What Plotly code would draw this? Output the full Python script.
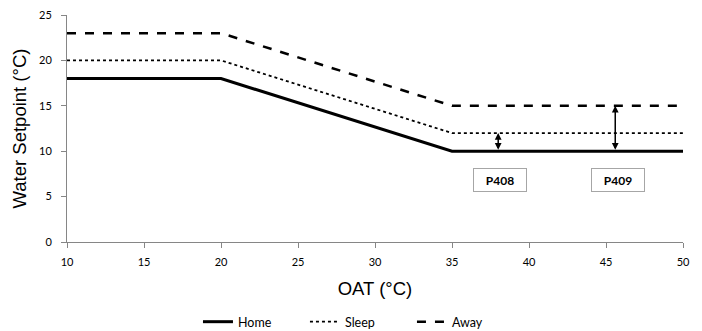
import plotly.graph_objects as go

oat = [10, 20, 35, 50]
home = [18, 18, 10, 10]
sleep = [20, 20, 12, 12]
away = [23, 23, 15, 15]

arrow_x = [38, 45.6]
arrow_lo = [10, 10]
arrow_hi = [12, 15]
box_labels = ["P408", "P409"]
box_x = [38.1, 45.8]
box_y = [6.8, 6.8]

fig = go.Figure()
fig.add_trace(go.Scatter(x=oat, y=home, mode="lines", name="Home",
                         line=dict(color="black", width=3, dash="solid")))
fig.add_trace(go.Scatter(x=oat, y=sleep, mode="lines", name="Sleep",
                         line=dict(color="black", width=1.8, dash="dot")))
fig.add_trace(go.Scatter(x=oat, y=away, mode="lines", name="Away",
                         line=dict(color="black", width=2.5, dash="dash")))

for xa, lo, hi in zip(arrow_x, arrow_lo, arrow_hi):
    fig.add_annotation(x=xa, y=hi, ax=xa, ay=lo, xref="x", yref="y",
                       axref="x", ayref="y", text="", showarrow=True,
                       arrowhead=2, arrowside="end+start", arrowsize=0.9,
                       arrowwidth=1.5, arrowcolor="black", standoff=0, startstandoff=0)

for lab, bx, by in zip(box_labels, box_x, box_y):
    fig.add_annotation(x=bx, y=by, xref="x", yref="y", text="<b>" + lab + "</b>",
                       showarrow=False, font=dict(family="Lato, Noto Sans", size=12, color="black"),
                       bordercolor="#a6a6a6", borderwidth=1, borderpad=5,
                       bgcolor="white", width=42, height=12)

fig.update_layout(
    width=702, height=331,
    margin=dict(l=67, r=19, t=15, b=89, autoexpand=False),
    paper_bgcolor="white", plot_bgcolor="white",
    showlegend=True,
    legend=dict(orientation="h", xref="container", yref="container",
                x=0.282, xanchor="left", y=0.027, yanchor="middle",
                font=dict(family="Lato, Noto Sans", size=12.5, color="black"),
                itemwidth=30, entrywidth=62, entrywidthmode="pixels", tracegroupgap=0),
    font=dict(family="Lato", color="black"),
)
fig.update_xaxes(range=[10, 50], tickvals=[10, 15, 20, 25, 30, 35, 40, 45, 50],
                 automargin=False,
                 showgrid=False, zeroline=False, showline=True, linecolor="#868686",
                 linewidth=1, ticks="outside", ticklen=5, tickcolor="#868686",
                 ticklabelstandoff=5,
                 tickfont=dict(family="Lato", size=11, color="black"),
                 title=dict(text="OAT (°C)", font=dict(family="Liberation Sans, Arial", size=18.5, color="black"),
                            standoff=14))
fig.update_yaxes(range=[0, 25], tickvals=[0, 5, 10, 15, 20, 25],
                 automargin=False,
                 showgrid=False, zeroline=False, showline=True, linecolor="#868686",
                 linewidth=1, ticks="outside", ticklen=5, tickcolor="#868686",
                 ticklabelstandoff=7,
                 tickfont=dict(family="Lato", size=11, color="black"),
                 title=dict(text="Water Setpoint (°C)", font=dict(family="Liberation Sans, Arial", size=18.5, color="black"),
                            standoff=7))

fig.write_html("out.html", config={"displayModeBar": False},
               post_script="document.body.style.margin='0px';")
